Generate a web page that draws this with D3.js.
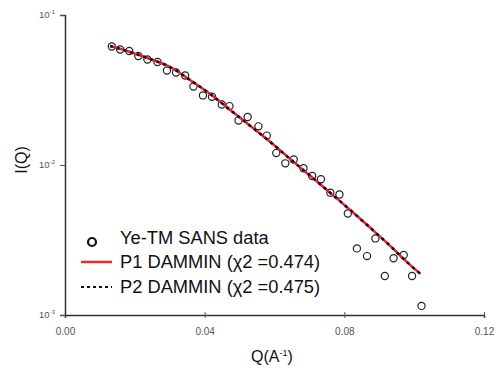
<!DOCTYPE html>
<meta charset="utf-8" />
<head>
  <style>
    body {
      margin: 0;
      background: #fff;
    }
    svg text {
      font-family: "Liberation Sans", Arial, sans-serif;
    }
  </style>
</head>
<script src="https://d3js.org/d3.v7.min.js"></script>
<body>
  <div id="chart"></div>
  <script>
    ////////////////////////////////////
    ///////////// Data /////////////////
    ////////////////////////////////////

    // measured SANS points (Q in 1/A, intensity)
    const dataQ = [
      0.0134, 0.0158, 0.0184, 0.021, 0.0236, 0.0265, 0.0292, 0.0318, 0.0344,
      0.0368, 0.0395, 0.0421, 0.0449, 0.0471, 0.0497, 0.0523, 0.0554, 0.0578,
      0.0605, 0.0631, 0.0655, 0.0683, 0.0708, 0.0733, 0.076, 0.0786, 0.081,
      0.0836, 0.0865, 0.0889, 0.0916, 0.0941, 0.097, 0.0994, 0.1021,
    ];
    const dataI = [
      0.0617, 0.0589, 0.0575, 0.0533, 0.0505, 0.0486, 0.0427, 0.0414, 0.0395,
      0.0334, 0.0291, 0.0285, 0.0253, 0.0247, 0.0198, 0.0209, 0.0181, 0.0157,
      0.012, 0.01026, 0.01088, 0.00951, 0.00845, 0.00803, 0.00654, 0.00636,
      0.00475, 0.00278, 0.00247, 0.00324, 0.00182, 0.00239, 0.00251, 0.00182,
      0.00115,
    ];

    // DAMMIN model curves (P1 and P2 overlap)
    const fitQ = [
      0.0129, 0.0186, 0.0244, 0.0301, 0.0358, 0.0416, 0.0473, 0.0531, 0.0588,
      0.0645, 0.0703, 0.076, 0.0817, 0.0875, 0.0932, 0.0989, 0.1018,
    ];
    const fitP1 = [
      0.0621, 0.0567, 0.0509, 0.045, 0.0369, 0.0297, 0.0233, 0.0182, 0.01423,
      0.01096, 0.00845, 0.00651, 0.00501, 0.0038, 0.00288, 0.00215, 0.00188,
    ];
    const fitP2 = [
      0.0621, 0.0567, 0.0509, 0.045, 0.0369, 0.0297, 0.0233, 0.0182, 0.01423,
      0.01096, 0.00845, 0.00651, 0.00501, 0.0038, 0.00288, 0.00215, 0.00188,
    ];

    const xTicks = [0, 0.04, 0.08, 0.12];
    const yTicks = [0.1, 0.01, 0.001];
    const yTickExp = ["-1", "-2", "-3"];

    const legendLabels = [
      "Ye-TM SANS data",
      "P1 DAMMIN (\u03c72 =0.474)",
      "P2 DAMMIN (\u03c72 =0.475)",
    ];

    ////////////////////////////////////
    ///////////// SVG Setup ////////////
    ////////////////////////////////////

    const svgWidth = 498;
    const svgHeight = 372;
    const margin = { left: 65, right: 14, top: 15, bottom: 57 };
    const width = svgWidth - margin.left - margin.right;
    const height = svgHeight - margin.top - margin.bottom;

    const svg = d3
      .select("#chart")
      .append("svg")
      .attr("width", svgWidth)
      .attr("height", svgHeight)
      .append("g")
      .attr("transform", "translate(" + margin.left + "," + margin.top + ")");

    ////////////////////////////////////
    ///////////// Scales ///////////////
    ////////////////////////////////////

    const xScale = d3.scaleLinear().domain([0, 0.12]).range([0, width]);
    const yScale = d3.scaleLog().domain([0.001, 0.1]).range([height, 0]);

    // x axis
    const xAxis = svg
      .append("g")
      .attr("transform", "translate(0," + height + ")")
      .call(
        d3
          .axisBottom(xScale)
          .tickValues(xTicks)
          .tickSize(3)
          .tickFormat(d3.format(".2f"))
      );
    xAxis.select(".domain").attr("stroke", "#333").attr("stroke-width", 1.5);
    xAxis.selectAll(".tick line").attr("stroke", "#555").attr("y1", -3);
    xAxis
      .selectAll(".tick text")
      .attr("fill", "#555")
      .attr("font-size", 10)
      .attr("y", 9)
      .attr("dy", "1.1em");

    // y axis
    const yAxis = svg
      .append("g")
      .call(d3.axisLeft(yScale).tickValues(yTicks).tickSize(5).tickFormat(""));
    yAxis.select(".domain").attr("stroke", "#333").attr("stroke-width", 1.5);
    yAxis.selectAll(".tick line").attr("stroke", "#555");

    // y tick labels with superscript exponents
    yTicks.forEach((t, i) => {
      const lbl = svg
        .append("text")
        .attr("x", -10)
        .attr("y", yScale(t) + 3)
        .attr("text-anchor", "end")
        .attr("fill", "#555")
        .attr("font-size", 9.5);
      lbl.append("tspan").text("10");
      lbl
        .append("tspan")
        .attr("dy", -4)
        .attr("font-size", 6)
        .text(yTickExp[i]);
    });

    ////////////////////////////////////
    ///////////// Marks ////////////////
    ////////////////////////////////////

    const points = dataQ.map((q, i) => ({ q: q, i: dataI[i] }));

    svg
      .selectAll("circle.pt")
      .data(points)
      .join("circle")
      .attr("class", "pt")
      .attr("cx", (d) => xScale(d.q))
      .attr("cy", (d) => yScale(d.i))
      .attr("r", 3.6)
      .attr("fill", "none")
      .attr("stroke", "#222")
      .attr("stroke-width", 1.2);

    const line = d3
      .line()
      .x((d) => xScale(d[0]))
      .y((d) => yScale(d[1]))
      .curve(d3.curveMonotoneX);

    svg
      .append("path")
      .datum(fitQ.map((q, i) => [q, fitP1[i]]))
      .attr("d", line)
      .attr("fill", "none")
      .attr("stroke", "#e8203a")
      .attr("stroke-width", 2.5);

    svg
      .append("path")
      .datum(fitQ.map((q, i) => [q, fitP2[i]]))
      .attr("d", line)
      .attr("fill", "none")
      .attr("stroke", "#111")
      .attr("stroke-width", 2.5)
      .attr("stroke-dasharray", "3,4");

    ////////////////////////////////////
    ///////////// Legend ///////////////
    ////////////////////////////////////

    const legend = svg.append("g").attr("transform", "translate(16,227)");

    legend
      .append("circle")
      .attr("cx", 11)
      .attr("cy", 0)
      .attr("r", 4)
      .attr("fill", "none")
      .attr("stroke", "#111")
      .attr("stroke-width", 2.2);

    legend
      .append("line")
      .attr("x1", 0)
      .attr("x2", 31)
      .attr("y1", 20)
      .attr("y2", 20)
      .attr("stroke", "#f02828")
      .attr("stroke-width", 2.5);

    legend
      .append("line")
      .attr("x1", 0)
      .attr("x2", 31)
      .attr("y1", 45)
      .attr("y2", 45)
      .attr("stroke", "#111")
      .attr("stroke-width", 2)
      .attr("stroke-dasharray", "3,3");

    legendLabels.forEach((t, i) =>
      legend
        .append("text")
        .attr("x", 39)
        .attr("y", i * 24.5 - 3)
        .attr("dominant-baseline", "middle")
        .attr("font-size", 18.3)
        .attr("fill", "#111")
        .text(t)
    );

    ////////////////////////////////////
    ///////////// Axis titles //////////
    ////////////////////////////////////

    const xTitle = svg
      .append("text")
      .attr("x", 207)
      .attr("y", height + 47)
      .attr("text-anchor", "middle")
      .attr("font-size", 16)
      .attr("fill", "#111");
    xTitle.append("tspan").text("Q(A");
    xTitle.append("tspan").attr("dy", -6).attr("font-size", 9).text("-1");
    xTitle.append("tspan").attr("dy", 6).text(")");

    svg
      .append("text")
      .attr("transform", "translate(-38," + (height / 2 - 5) + ") rotate(-90)")
      .attr("text-anchor", "middle")
      .attr("font-size", 16)
      .attr("fill", "#111")
      .text("I(Q)");
  </script>
</body>
